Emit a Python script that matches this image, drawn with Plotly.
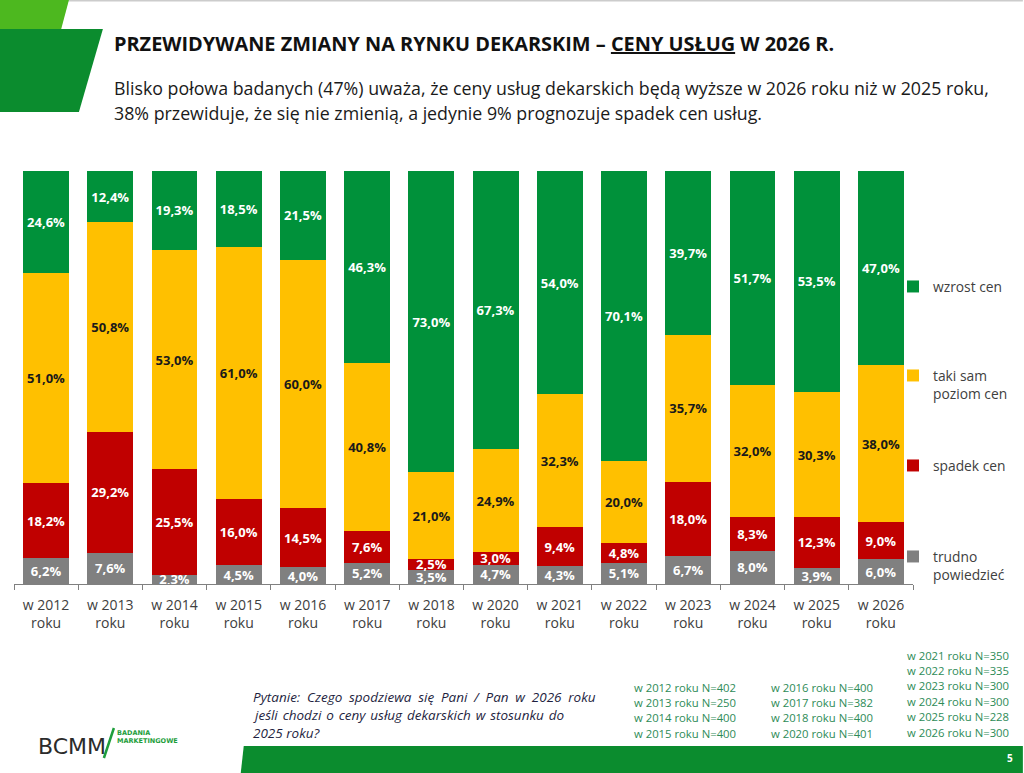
import plotly.graph_objects as go

# ---------------- data ----------------
categories = ["w 2012<br>roku", "w 2013<br>roku", "w 2014<br>roku", "w 2015<br>roku",
              "w 2016<br>roku", "w 2017<br>roku", "w 2018<br>roku", "w 2020<br>roku",
              "w 2021<br>roku", "w 2022<br>roku", "w 2023<br>roku", "w 2024<br>roku",
              "w 2025<br>roku", "w 2026<br>roku"]
trudno = [6.2, 7.6, 2.3, 4.5, 4.0, 5.2, 3.5, 4.7, 4.3, 5.1, 6.7, 8.0, 3.9, 6.0]
spadek = [18.2, 29.2, 25.5, 16.0, 14.5, 7.6, 2.5, 3.0, 9.4, 4.8, 18.0, 8.3, 12.3, 9.0]
taki_sam = [51.0, 50.8, 53.0, 61.0, 60.0, 40.8, 21.0, 24.9, 32.3, 20.0, 35.7, 32.0, 30.3, 38.0]
wzrost = [24.6, 12.4, 19.3, 18.5, 21.5, 46.3, 73.0, 67.3, 54.0, 70.1, 39.7, 51.7, 53.5, 47.0]

series_names = ["trudno<br>powiedzieć", "spadek cen", "taki sam<br>poziom cen", "wzrost cen"]
sample_col1 = ["w 2012 roku N=402", "w 2013 roku N=250", "w 2014 roku N=400", "w 2015 roku N=400"]
sample_col2 = ["w 2016 roku N=400", "w 2017 roku N=382", "w 2018 roku N=400", "w 2020 roku N=401"]
sample_col3 = ["w 2021 roku N=350", "w 2022 roku N=335", "w 2023 roku N=300",
               "w 2024 roku N=300", "w 2025 roku N=228", "w 2026 roku N=300"]

title_text = "PRZEWIDYWANE ZMIANY NA RYNKU DEKARSKIM – <u>CENY USŁUG</u> W 2026 R."
subtitle_lines = ["Blisko połowa badanych (47%) uważa, że ceny usług dekarskich będą wyższe w 2026 roku niż w 2025 roku,",
                  "38% przewiduje, że się nie zmienią, a jedynie 9% prognozuje spadek cen usług."]
question_lines = ["Pytanie: Czego spodziewa się Pani / Pan w 2026 roku",
                  "jeśli chodzi o ceny usług dekarskich w stosunku do",
                  "2025 roku?"]

# ---------------- layout geometry ----------------
W, H = 1024, 773
PL, PR, PT, PB = 14, 914, 171, 584


def X(px):
    return (px - PL) / (PR - PL)


def Y(py):
    return (PB - py) / (PB - PT)


FONT = "Open Sans"
GREEN = "#00913A"
YELLOW = "#FFC000"
RED = "#C00000"
GRAY = "#808080"
DARKGREEN = "#0B8C2E"

fig = go.Figure()
series = [(trudno, series_names[0], GRAY, "white", "legend4"),
          (spadek, series_names[1], RED, "white", "legend3"),
          (taki_sam, series_names[2], YELLOW, "#1a1a1a", "legend2"),
          (wzrost, series_names[3], GREEN, "white", "legend")]
for vals, name, col, tcol, lg in series:
    fig.add_trace(go.Bar(
        x=categories, y=vals, name=name, legend=lg, showlegend=True,
        marker=dict(color=col, line=dict(width=0)),
        texttemplate="%{y:.1f}%", textposition="inside", insidetextanchor="middle",
        textangle=0, constraintext="none",
        textfont=dict(family=FONT, size=13, color=tcol, weight="bold"),
        hoverinfo="skip",
    ))

legend_common = dict(xanchor="left", yanchor="top", valign="top", visible=True,
                     bgcolor="rgba(0,0,0,0)", font=dict(family=FONT, size=13.8, color="#404040"))
legend_tops = {"legend": 271, "legend2": 360, "legend3": 450, "legend4": 541}

layout_legends = {k: dict(x=X(893), y=Y(v), **legend_common) for k, v in legend_tops.items()}

# justified-looking spacing for the question text (wider word gaps, as in the reference)
gaps = ["\u2002", " \u200a", " "]
question_display = [line.replace(" ", g) for line, g in zip(question_lines, gaps)]

annotations = []
annotations.append(dict(text="<b>" + title_text + "</b>", x=X(112), y=Y(44), xanchor="left", yanchor="middle",
                        font=dict(family=FONT, size=19.9, color="#111111")))
for i, line in enumerate(subtitle_lines):
    annotations.append(dict(text=line, x=X(112), y=Y(88 + 25 * i), xanchor="left", yanchor="middle",
                            font=dict(family=FONT, size=17.8, color="#1a1a1a")))
for i, line in enumerate(question_display):
    annotations.append(dict(text="<i>" + line + "</i>", x=X(251), y=Y(697 + 18 * i), xanchor="left",
                            yanchor="middle", font=dict(family=FONT, size=13.5, color="#1F1F3F")))
for col_x, lines, start in [(633, sample_col1, 687), (770, sample_col2, 687), (906, sample_col3, 655)]:
    for i, line in enumerate(lines):
        annotations.append(dict(text=line, x=X(col_x), y=Y(start + 15.4 * i), xanchor="left", yanchor="middle",
                                font=dict(family=FONT, size=11.3, color="#2E8B57")))
# page number
annotations.append(dict(text="<b>5</b>", x=X(1011), y=Y(758), xanchor="center", yanchor="middle",
                        font=dict(family=FONT, size=10, color="white")))
# logo
annotations.append(dict(text="BCMM", x=X(36), y=Y(746), xanchor="left", yanchor="middle",
                        font=dict(family="DejaVu Sans", size=22, color="#2b2b2b")))
annotations.append(dict(text="<b>BADANIA<br>MARKETINGOWE</b>", x=X(115), y=Y(737), xanchor="left",
                        yanchor="middle", align="left",
                        font=dict(family="DejaVu Sans", size=6.5, color="#1E9E3C")))
for a in annotations:
    a.update(xref="paper", yref="paper", showarrow=False)


def path(points):
    s = "M " + " L ".join(f"{X(px)},{Y(py)}" for px, py in points) + " Z"
    return s


shapes = [
    dict(type="line", x0=X(0), x1=X(W), y0=Y(0.5), y1=Y(0.5), line=dict(color="#cccccc", width=2)),
    dict(type="path", path=path([(0, 0), (69, 0), (61, 30), (0, 30)]), fillcolor="#4DB81F", line=dict(width=0)),
    dict(type="path", path=path([(0, 29), (103, 29), (79, 112), (0, 112)]), fillcolor=DARKGREEN, line=dict(width=0)),
    dict(type="path", path=path([(244, 746), (1024, 746), (1024, 773), (241, 773)]), fillcolor=DARKGREEN,
         line=dict(width=0)),
    dict(type="line", x0=X(104), y0=Y(758), x1=X(114), y1=Y(728), line=dict(color="#1E9E3C", width=2.5)),
]
for s in shapes:
    s.update(xref="paper", yref="paper", layer="above")

fig.update_layout(
    width=W, height=H, barmode="stack", bargap=0.286,
    margin=dict(l=PL, r=W - PR, t=PT, b=H - PB, pad=0),
    paper_bgcolor="white", plot_bgcolor="white",
    separators=", ", showlegend=True,
    font=dict(family=FONT),
    annotations=annotations, shapes=shapes,
    **layout_legends,
)
fig.update_xaxes(showgrid=False, showline=True, linecolor="#808080", linewidth=1, ticks="outside",
                 tickson="boundaries", ticklen=5, tickcolor="#808080", ticklabelstandoff=8,
                 tickfont=dict(family=FONT, size=14, color="#404040"), fixedrange=True)
fig.update_yaxes(range=[0, 100], visible=False, showgrid=False, fixedrange=True)

fig.write_html("out.html", config={"displayModeBar": False},
               post_script="document.body.style.margin='0';document.body.style.overflow='hidden';")
